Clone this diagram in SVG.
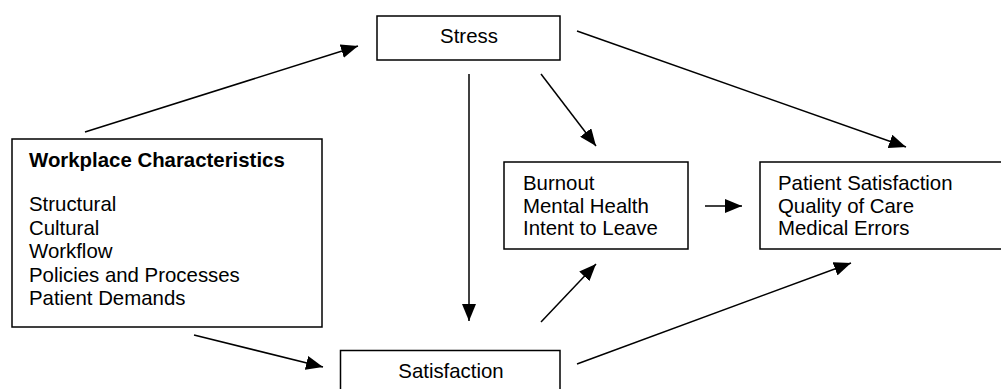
<svg xmlns="http://www.w3.org/2000/svg" width="1001" height="389" viewBox="0 0 1001 389">
<style>
.box{fill:#fff;stroke:#000;stroke-width:1.5}
.t{font-family:"Liberation Sans",Arial,sans-serif;font-size:20.4px;fill:#000}
.b{font-weight:bold}
.c{stroke:#000;stroke-width:1.5;fill:none;marker-end:url(#ah)}
</style>
<defs>
<marker id="ah" markerUnits="userSpaceOnUse" markerWidth="17" markerHeight="14" refX="17" refY="7" orient="auto" viewBox="0 0 17 14">
<path d="M0,0 L17,7 L0,14 Z" fill="#000"/>
</marker>
</defs>
<g id="connectors">
<line class="c" x1="85" y1="132" x2="358" y2="46"/>
<line class="c" x1="577" y1="31" x2="906" y2="147"/>
<line class="c" x1="541" y1="74" x2="596" y2="146"/>
<line class="c" x1="469" y1="74" x2="469" y2="321"/>
<line class="c" x1="194" y1="335" x2="323" y2="367"/>
<line class="c" x1="541" y1="322" x2="596" y2="264"/>
<line class="c" x1="577" y1="364" x2="851" y2="263"/>
<line class="c" x1="705" y1="206" x2="742" y2="206"/>
</g>
<g id="stress">
<rect class="box" x="377" y="16" width="183" height="44"/>
<text class="t" x="469" y="43" text-anchor="middle">Stress</text>
</g>
<g id="workplace">
<rect class="box" x="12" y="139" width="310" height="188"/>
<text class="t b" x="29" y="167">Workplace Characteristics</text>
<text class="t" x="29" y="211">Structural</text>
<text class="t" x="29" y="234.5">Cultural</text>
<text class="t" x="29" y="258">Workflow</text>
<text class="t" x="29" y="281.5">Policies and Processes</text>
<text class="t" x="29" y="305">Patient Demands</text>
</g>
<g id="burnout">
<rect class="box" x="504" y="162" width="184" height="87"/>
<text class="t" x="523" y="190">Burnout</text>
<text class="t" x="523" y="212.5">Mental Health</text>
<text class="t" x="523" y="235">Intent to Leave</text>
</g>
<g id="outcomes">
<rect class="box" x="760" y="162" width="250" height="87"/>
<text class="t" x="778" y="190">Patient Satisfaction</text>
<text class="t" x="778" y="212.5">Quality of Care</text>
<text class="t" x="778" y="235">Medical Errors</text>
</g>
<g id="satisfaction">
<rect class="box" x="340.5" y="350.5" width="219.5" height="60"/>
<text class="t" x="451" y="378" text-anchor="middle">Satisfaction</text>
</g>
</svg>
